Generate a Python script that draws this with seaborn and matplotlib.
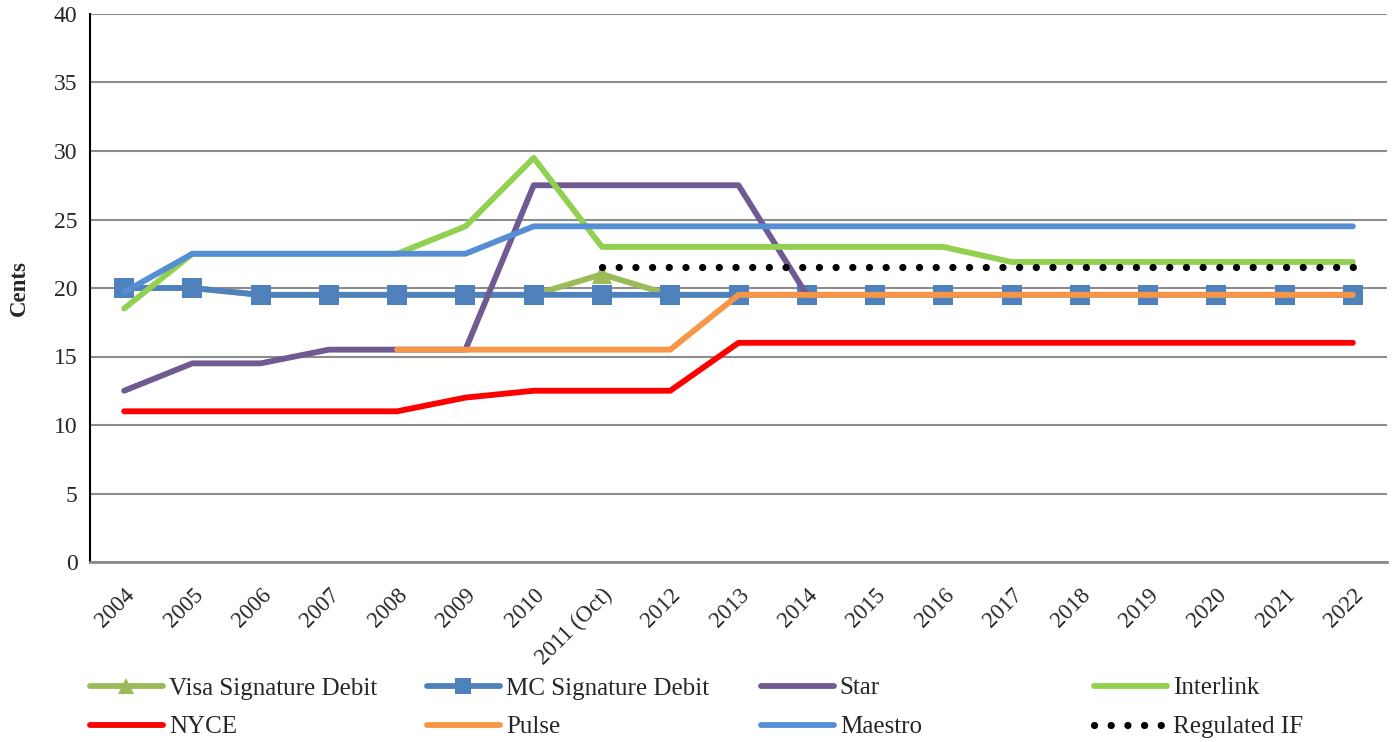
import numpy as np
import pandas as pd
import matplotlib
matplotlib.use("Agg")
import matplotlib.pyplot as plt
import seaborn as sns

years = ["2004", "2005", "2006", "2007", "2008", "2009", "2010", "2011 (Oct)",
         "2012", "2013", "2014", "2015", "2016", "2017", "2018", "2019",
         "2020", "2021", "2022"]

nan = np.nan
visa_sig = [20, 20, 19.5, 19.5, 19.5, 19.5, 19.5, 21, 19.5, 19.5, 19.5, 19.5,
            19.5, 19.5, 19.5, 19.5, 19.5, 19.5, 19.5]
mc_sig = [20, 20, 19.5, 19.5, 19.5, 19.5, 19.5, 19.5, 19.5, 19.5, 19.5, 19.5,
          19.5, 19.5, 19.5, 19.5, 19.5, 19.5, 19.5]
star = [12.5, 14.5, 14.5, 15.5, 15.5, 15.5, 27.5, 27.5, 27.5, 27.5, 19.5,
        nan, nan, nan, nan, nan, nan, nan, nan]
interlink = [18.5, 22.5, 22.5, 22.5, 22.5, 24.5, 29.5, 23, 23, 23, 23, 23, 23,
             21.9, 21.9, 21.9, 21.9, 21.9, 21.9]
nyce = [11, 11, 11, 11, 11, 12, 12.5, 12.5, 12.5, 16, 16, 16, 16, 16, 16, 16,
        16, 16, 16]
pulse = [nan, nan, nan, nan, 15.5, 15.5, 15.5, 15.5, 15.5, 19.5, 19.5, 19.5,
         19.5, 19.5, 19.5, 19.5, 19.5, 19.5, 19.5]
maestro = [19.7, 22.5, 22.5, 22.5, 22.5, 22.5, 24.5, 24.5, 24.5, 24.5, 24.5,
           24.5, 24.5, 24.5, 24.5, 24.5, 24.5, 24.5, 24.5]
regulated = [nan, nan, nan, nan, nan, nan, nan, 21.5, 21.5, 21.5, 21.5, 21.5,
             21.5, 21.5, 21.5, 21.5, 21.5, 21.5, 21.5]

series = [
    ("Visa Signature Debit", visa_sig, "#9BBB59", dict(marker="^", markersize=14)),
    ("MC Signature Debit", mc_sig, "#4F81BD", dict(marker="s", markersize=14)),
    ("Star", star, "#6F5A92", {}),
    ("Interlink", interlink, "#92D050", {}),
    ("NYCE", nyce, "#FF0000", {}),
    ("Pulse", pulse, "#F79646", {}),
    ("Maestro", maestro, "#558ED5", {}),
    ("Regulated IF", regulated, "black", dict(linestyle=(0, (0.01, 2.3)),
                                              dash_capstyle="round", lw=5.2)),
]

sns.set_style("white")
plt.rcParams["font.family"] = ["Liberation Serif", "DejaVu Serif"]

W, H = 1397, 742
fig = plt.figure(figsize=(W / 100, H / 100), dpi=100)
ax = fig.add_axes([90 / W, 1 - 562 / H, (1387 - 90) / W, (562 - 14) / H])

x = np.arange(len(years))
for name, vals, col, kw in series:
    df = pd.DataFrame({"x": x, "y": vals}).dropna()
    opts = dict(lw=4.2, markeredgewidth=0, solid_capstyle="round")
    opts.update(kw)
    sns.lineplot(data=df, x="x", y="y", ax=ax, color=col, label=name, **opts)

ax.set_xlim(-0.5, len(years) - 0.5)
ax.set_ylim(0, 40)
ax.set_yticks(np.arange(0, 41, 5))
ax.set_xticks(x)
ax.set_xticklabels(years, rotation=45, ha="right", rotation_mode="anchor")
ax.set_xticks(np.arange(-0.5, len(years), 1), minor=True)
ax.tick_params(axis="x", which="major", length=0, pad=16, labelsize=16.5)
ax.tick_params(axis="x", which="minor", length=8, width=1.5, color="#8C8C8C",
               direction="out")
ax.tick_params(axis="y", length=0, labelsize=17, pad=9)
ax.yaxis.grid(True, color="#8C8C8C", lw=1.5)
ax.set_axisbelow(True)
for s in ["top", "right"]:
    ax.spines[s].set_visible(False)
ax.spines["left"].set_color("black")
ax.spines["left"].set_linewidth(1.5)
ax.spines["bottom"].set_color("#8C8C8C")
ax.spines["bottom"].set_linewidth(2)
ax.set_xlabel("")
ax.set_ylabel("Cents", fontsize=16.5, fontweight="bold", labelpad=17)

handles, labels = ax.get_legend_handles_labels()
ax.get_legend().remove()

# Excel-style legend: four equal-width columns, two rows
col_x = [90, 427, 761, 1094]
for c in range(4):
    idx = [c, c + 4]
    fig.legend([handles[i] for i in idx], [labels[i] for i in idx],
               loc="upper left", bbox_to_anchor=(col_x[c] / W, 1 - 677 / H),
               frameon=False, fontsize=18, handlelength=2.9,
               handletextpad=0.25, labelspacing=0.65, borderpad=0,
               borderaxespad=0, markerscale=0.85)

fig.savefig("out.png", dpi=100)
